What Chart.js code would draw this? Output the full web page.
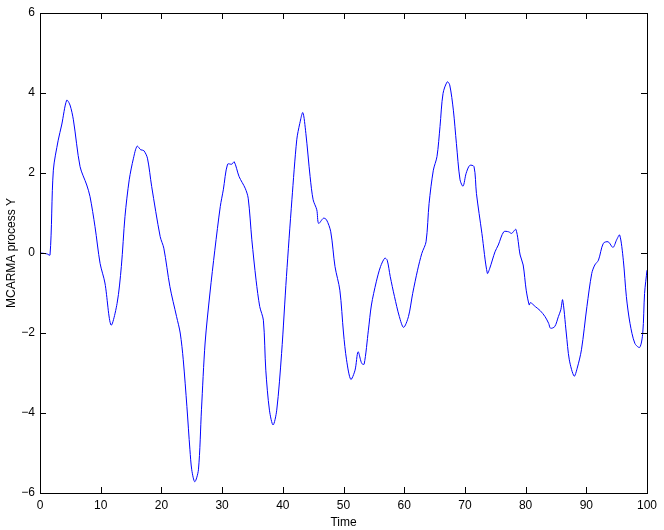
<!DOCTYPE html>
<html>
<head>
<meta charset="utf-8">
<script src="https://cdn.jsdelivr.net/npm/chart.js@4/dist/chart.umd.min.js"></script>
<style>
  html, body { margin: 0; padding: 0; background: #fff; }
  #wrap { width: 664px; height: 530px; }
</style>
</head>
<body>
<div id="wrap"><canvas id="lienzo" width="664" height="530"></canvas></div>
<script>
// valores
const tiempos = [0, 1.1, 1.65, 2.2, 3.0, 3.57, 4.4, 4.94, 5.5, 6.6, 7.7, 8.24, 9.06, 9.9, 10.7, 11.7, 12.7, 13.4, 14.0, 14.7,
  15.4, 16.0, 16.6, 17.1, 17.7, 18.4, 19.8, 20.4, 21.4, 22.5, 23.1, 23.6, 24.2, 24.7, 25.0, 25.5, 26.1, 26.6, 27.2, 28.0,
  28.8, 29.7, 30.2, 30.9, 31.6, 32.0, 32.8, 33.8, 34.3, 34.9, 35.6, 36.2, 36.8, 37.2, 37.8, 38.4, 39.0, 39.8, 40.6, 41.5,
  42.3, 42.8, 43.3, 43.8, 44.5, 45.0, 45.6, 45.9, 46.7, 47.2, 47.9, 48.6, 49.4, 50.0, 50.5, 51.2, 51.9, 52.4, 53.0, 53.4,
  54.1, 54.6, 55.4, 56.1, 56.8, 57.2, 57.7, 58.4, 59.2, 59.9, 60.7, 61.4, 62.2, 62.9, 63.6, 64.1, 64.8, 65.4, 65.9, 66.4,
  67.1, 67.5, 68.1, 68.6, 69.2, 69.7, 70.2, 70.8, 71.5, 71.9, 72.8, 73.7, 74.1, 74.96, 75.5, 76.4, 77.2, 77.7, 78.4, 79.1,
  79.6, 80.1, 80.6, 80.8, 81.6, 82.4, 83.2, 83.8, 84.1, 84.8, 85.4, 85.8, 86.1, 86.7, 87.2, 88.0, 88.5, 89.2, 90.1, 90.9,
  91.4, 92.0, 92.8, 93.6, 94.4, 95.0, 95.5, 96.1, 96.6, 97.2, 98.0, 98.8, 99.3, 99.6, 100];
const procesoY = [0.0, -0.02, -0.05, 2.07, 2.82, 3.2, 3.82, 3.7, 3.33, 2.16, 1.7, 1.41, 0.66, -0.26, -0.75, -1.8, -1.26, -0.34, 0.91, 1.83,
  2.37, 2.67, 2.58, 2.56, 2.37, 1.66, 0.41, 0.12, -0.84, -1.59, -2.0, -2.67, -3.84, -4.92, -5.42, -5.72, -5.42, -3.92, -2.25, -1.0,
  0.07, 1.16, 1.58, 2.22, 2.22, 2.28, 1.91, 1.62, 1.37, 0.33, -0.68, -1.34, -1.68, -2.93, -3.93, -4.3, -3.93, -2.51, -0.59, 1.33,
  2.83, 3.24, 3.51, 2.99, 1.91, 1.33, 1.08, 0.74, 0.87, 0.83, 0.53, -0.34, -0.93, -2.0, -2.67, -3.16, -2.93, -2.47, -2.76, -2.78,
  -1.93, -1.3, -0.72, -0.34, -0.13, -0.18, -0.59, -1.09, -1.59, -1.86, -1.59, -1.01, -0.43, -0.01, 0.28, 1.24, 2.07, 2.41, 3.16, 3.99,
  4.28, 4.2, 3.57, 2.74, 1.83, 1.67, 1.99, 2.19, 2.16, 1.49, 0.49, -0.51, -0.38, 0.03, 0.2, 0.53, 0.53, 0.49, 0.59, -0.05,
  -0.3, -0.93, -1.3, -1.24, -1.34, -1.44, -1.59, -1.76, -1.88, -1.84, -1.59, -1.42, -1.17, -2.0, -2.67, -3.08, -2.88, -2.42, -1.34, -0.51,
  -0.3, -0.18, 0.24, 0.28, 0.14, 0.33, 0.45, -0.18, -1.09, -1.76, -2.26, -2.36, -2.0, -1.01, -0.43];
const ticksX = [0, 10, 20, 30, 40, 50, 60, 70, 80, 90, 100];
const ticksY = [-6, -4, -2, 0, 2, 4, 6];

const puntos = tiempos.map((t, i) => ({ x: t, y: procesoY[i] }));
const fuente = { family: 'Liberation Sans, Arial, sans-serif', size: 12 };
const menos = v => String(v).replace('-', '\u2212');

// marcas hacia adentro y caja estilo matlab
const cajaPlugin = {
  id: 'caja',
  afterDraw(chart) {
    const c = chart.ctx, a = chart.chartArea;
    const sx = chart.scales.x, sy = chart.scales.y;
    c.save();
    c.strokeStyle = '#000';
    c.lineWidth = 1;
    c.beginPath();
    ticksX.forEach(v => {
      const px = Math.round(sx.getPixelForValue(v)) + 0.5;
      c.moveTo(px, a.bottom); c.lineTo(px, a.bottom - 6);
      c.moveTo(px, a.top); c.lineTo(px, a.top + 6);
    });
    ticksY.forEach(v => {
      const py = Math.round(sy.getPixelForValue(v)) + 0.5;
      c.moveTo(a.left, py); c.lineTo(a.left + 6, py);
      c.moveTo(a.right, py); c.lineTo(a.right - 6, py);
    });
    c.stroke();
    c.strokeRect(Math.round(a.left) + 0.5, Math.round(a.top) + 0.5,
      Math.round(a.right - a.left), Math.round(a.bottom - a.top));
    c.restore();
  }
};

const contexto = document.getElementById('lienzo').getContext('2d');
const grafico = new Chart(contexto, {
  type: 'line',
  data: {
    datasets: [{
      data: puntos,
      borderColor: '#0000ff',
      borderWidth: 1,
      pointRadius: 0,
      tension: 0.3,
      fill: false
    }]
  },
  options: {
    responsive: false,
    animation: false,
    layout: { padding: { left: 0, right: 17, top: 13, bottom: 0 } },
    plugins: { legend: { display: false }, tooltip: { enabled: false } },
    scales: {
      x: {
        type: 'linear', min: 0, max: 100,
        grid: { display: false, drawTicks: false },
        border: { display: false },
        afterBuildTicks: s => { s.ticks = ticksX.map(v => ({ value: v })); },
        afterFit: s => { s.height = 37; },
        ticks: { color: '#000', font: fuente, padding: 5, maxRotation: 0, callback: v => menos(v) },
        title: { display: true, text: 'Time', color: '#000', font: fuente, padding: 0 }
      },
      y: {
        type: 'linear', min: -6, max: 6,
        grid: { display: false, drawTicks: false },
        border: { display: false },
        afterBuildTicks: s => { s.ticks = ticksY.map(v => ({ value: v })); },
        afterFit: s => { s.width = 40; },
        ticks: { color: '#000', font: fuente, padding: 5, callback: v => menos(v) },
        title: { display: true, text: 'MCARMA process Y', color: '#000', font: fuente, padding: { top: 4, bottom: 0 } }
      }
    }
  },
  plugins: [cajaPlugin]
});
</script>
</body>
</html>
